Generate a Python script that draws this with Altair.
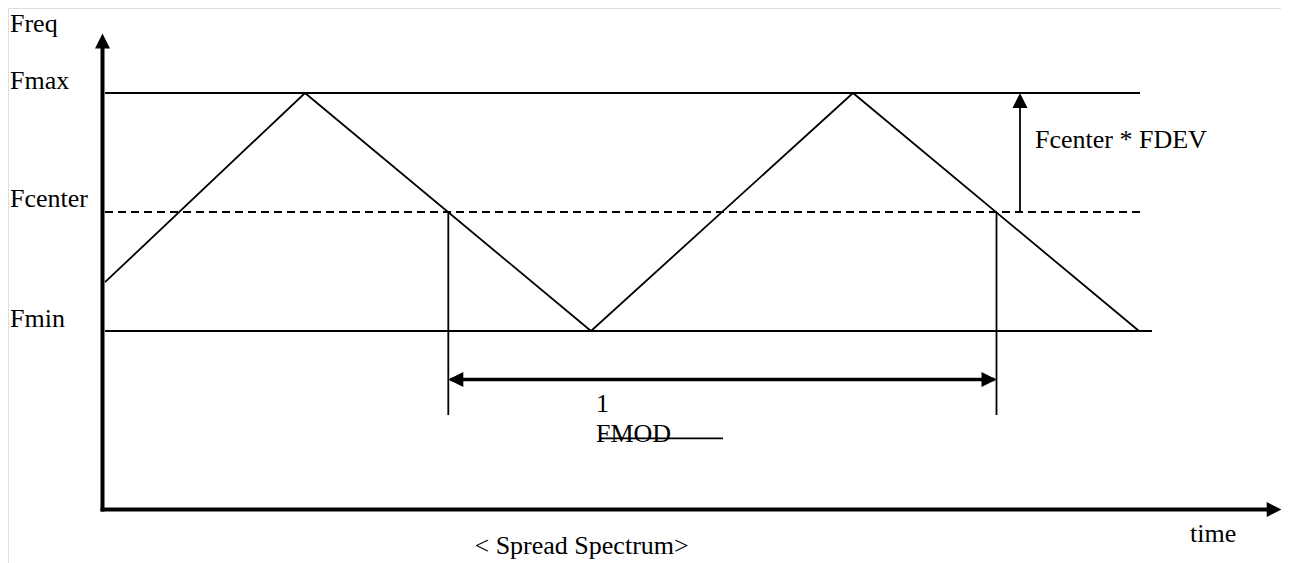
import altair as alt
import pandas as pd

# ---- data (time in arbitrary units from the Freq axis, frequency in units of FDEV around Fcenter)
wave_t = [2.5, 202.5, 488.5, 750.5, 1036.5]
wave_f = [-0.59, 1.0, -1.0, 1.0, -1.0]

solid_level_names = ["Fmax", "Fmin"]
solid_level_f = [1.0, -1.0]
solid_level_t0 = [2.5, 2.5]
solid_level_t1 = [1037.5, 1049.5]

center_f = 0.0
center_t0, center_t1 = 2.5, 1037.5

marker_t = [345.8, 894.0]          # Fcenter crossings
marker_f_top = [0.0, 0.0]
marker_f_bottom = [-1.706, -1.706]

period_f = -1.408
period_t0, period_t1 = 348.0, 892.0

fdev_t = 917.5
fdev_f0, fdev_f1 = 0.0, 0.9

axis_t0, axis_t1 = 0.0, 1166.0
axis_f0, axis_f1 = -2.5, 1.38

label_texts = ["Freq", "Fmax", "Fcenter", "Fmin", "Fcenter * FDEV", "1", "FMOD", "time", "< Spread Spectrum>"]
label_t = [-92.5, -92.5, -92.5, -92.5, 932.5, 493.5, 493.5, 1087.5, 372.0]
label_f = [1.513, 1.034, 0.042, -0.966, 0.538, -1.678, -1.930, -2.771, -2.875]

fmod_bar_t = [497.5, 620.5]
fmod_bar_f = -1.902

head_up_t = [0.0, fdev_t]
head_up_f = [1.5, 1.0]
head_right_t = [1179.2, 894.0]
head_right_f = [-2.5, period_f]
head_left_t = [345.8]
head_left_f = [period_f]

# ---- scales (pixel-exact mapping of the diagram)
xs = alt.Scale(domain=[-94.5, 1178.5], nice=False, zero=False)
ys = alt.Scale(domain=[-2.9496, 1.7143], nice=False, zero=False)

def X(f="t"):
    return alt.X(f"{f}:Q", scale=xs, axis=None)

def Y(f="f"):
    return alt.Y(f"{f}:Q", scale=ys, axis=None)

wave = alt.Chart(pd.DataFrame({"t": wave_t, "f": wave_f, "o": range(len(wave_t))})).mark_line(
    color="black", strokeWidth=1.8
).encode(x=X(), y=Y(), order="o:Q")

levels = alt.Chart(pd.DataFrame({"name": solid_level_names, "f": solid_level_f,
                                 "t0": solid_level_t0, "t1": solid_level_t1})).mark_rule(
    color="black", strokeWidth=1.8
).encode(x=X("t0"), x2="t1:Q", y=Y())

center = alt.Chart(pd.DataFrame({"f": [center_f], "t0": [center_t0], "t1": [center_t1]})).mark_rule(
    color="black", strokeWidth=2, strokeDash=[8, 5]
).encode(x=X("t0"), x2="t1:Q", y=Y())

markers = alt.Chart(pd.DataFrame({"t": marker_t, "f0": marker_f_top, "f1": marker_f_bottom})).mark_rule(
    color="black", strokeWidth=1.8
).encode(x=X(), y=Y("f0"), y2="f1:Q")

period = alt.Chart(pd.DataFrame({"f": [period_f], "t0": [period_t0], "t1": [period_t1]})).mark_rule(
    color="black", strokeWidth=3.5
).encode(x=X("t0"), x2="t1:Q", y=Y())

fdev = alt.Chart(pd.DataFrame({"t": [fdev_t], "f0": [fdev_f0], "f1": [fdev_f1]})).mark_rule(
    color="black", strokeWidth=1.8
).encode(x=X(), y=Y("f0"), y2="f1:Q")

fmod_bar = alt.Chart(pd.DataFrame({"f": [fmod_bar_f], "t0": [fmod_bar_t[0]], "t1": [fmod_bar_t[1]]})).mark_rule(
    color="black", strokeWidth=1.6
).encode(x=X("t0"), x2="t1:Q", y=Y())

yaxis = alt.Chart(pd.DataFrame({"t": [axis_t0], "f0": [axis_f0], "f1": [axis_f1]})).mark_rule(
    color="black", strokeWidth=4, strokeCap="square"
).encode(x=X(), y=Y("f0"), y2="f1:Q")

xaxis = alt.Chart(pd.DataFrame({"f": [axis_f0], "t0": [axis_t0], "t1": [axis_t1]})).mark_rule(
    color="black", strokeWidth=4, strokeCap="square"
).encode(x=X("t0"), x2="t1:Q", y=Y())

def heads(ts, fs, path):
    return alt.Chart(pd.DataFrame({"t": ts, "f": fs})).mark_point(
        shape=path, filled=True, size=225, color="black", opacity=1, strokeWidth=0
    ).encode(x=X(), y=Y())

up = heads(head_up_t, head_up_f, "M0,0 L-1,2 L1,2 Z")
right = heads(head_right_t, head_right_f, "M0,0 L-2,-1 L-2,1 Z")
left = heads(head_left_t, head_left_f, "M0,0 L2,-1 L2,1 Z")

labels = alt.Chart(pd.DataFrame({"text": label_texts, "t": label_t, "f": label_f})).mark_text(
    align="left", baseline="alphabetic", font="Liberation Serif, Times New Roman, serif",
    fontSize=26, color="black"
).encode(x=X(), y=Y(), text="text:N")

chart = alt.layer(
    center, levels, wave, markers, fdev, period, fmod_bar, yaxis, xaxis, up, right, left, labels
).properties(
    width=1273, height=555, padding=0, autosize=alt.AutoSizeParams(type="none")
).configure_view(stroke="transparent", strokeWidth=0).configure(background="white")

chart.save("out.html", embed_options={"renderer": "svg", "actions": False})
